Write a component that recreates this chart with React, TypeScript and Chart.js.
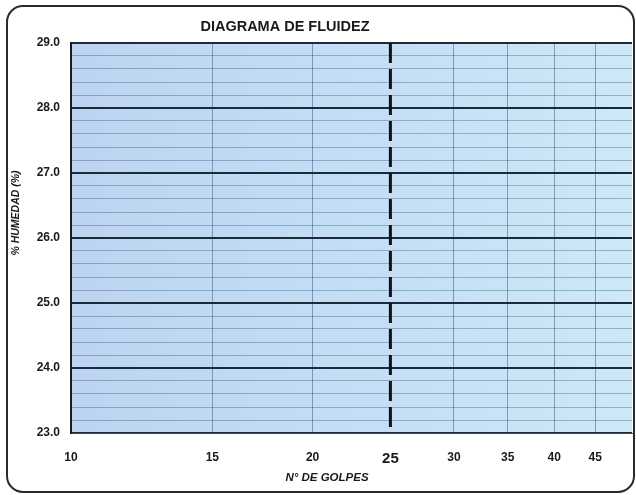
import React, { useEffect, useRef } from "react";
import { Chart, registerables } from "chart.js";
Chart.register(...registerables);

const xTickValues = [10, 15, 20, 25, 30, 35, 40, 45];
const xMin = 10;
const xMax = 50;
const yMin = 23;
const yMax = 29;
const yStep = 0.2;
const limitBlows = [25, 25];
const limitMoisture = [29, 23];
const titleText = "DIAGRAMA DE FLUIDEZ";
const xTitleText = "N° DE GOLPES";
const yTitleText = "% HUMEDAD (%)";

const FONT = "'Liberation Sans', Arial, sans-serif";

const isInt = (v: number) => Math.abs(v - Math.round(v)) < 1e-6;

export default function App() {
  const ref = useRef<HTMLCanvasElement>(null);
  useEffect(() => {
    document.body.style.margin = "0";
    const canvas = ref.current!;

    const decor = {
      id: "decor",
      beforeDraw(chart: any) {
        const { ctx, chartArea: a } = chart;
        ctx.save();
        ctx.fillStyle = "#ffffff";
        ctx.fillRect(0, 0, chart.width, chart.height);
        const g = ctx.createLinearGradient(a.left, 0, a.right, 0);
        g.addColorStop(0, "#bcd4f1");
        g.addColorStop(0.5, "#c3def5");
        g.addColorStop(1, "#cde8f6");
        ctx.fillStyle = g;
        ctx.fillRect(a.left, a.top, a.right - a.left, a.bottom - a.top);
        ctx.restore();
      },
      afterDraw(chart: any) {
        const { ctx } = chart;
        ctx.save();
        ctx.fillStyle = "#1a1a1a";
        ctx.textAlign = "center";
        ctx.textBaseline = "middle";
        ctx.font = `bold 14.5px ${FONT}`;
        ctx.fillText(titleText, 285, 27);
        ctx.font = `italic bold 11.5px ${FONT}`;
        ctx.fillText(xTitleText, 327, 478);
        ctx.translate(16, 213);
        ctx.rotate(-Math.PI / 2);
        ctx.font = `italic bold 10.5px ${FONT}`;
        ctx.fillText(yTitleText, 0, 0);
        ctx.restore();

        ctx.save();
        ctx.strokeStyle = "#2a2a2a";
        ctx.lineWidth = 2;
        ctx.beginPath();
        (ctx as any).roundRect(7, 6, 627, 486, 16);
        ctx.stroke();
        ctx.restore();
      },
    };

    const chart = new Chart(canvas, {
      type: "line",
      data: {
        datasets: [
          {
            data: limitBlows.map((x, i) => ({ x, y: limitMoisture[i] })),
            borderColor: "#111111",
            borderWidth: 3,
            borderDash: [20, 6],
            pointRadius: 0,
            fill: false,
          },
        ],
      },
      options: {
        responsive: false,
        animation: false,
        devicePixelRatio: 1,
        layout: { padding: { left: 0, right: 4, top: 43, bottom: 0 } },
        plugins: {
          legend: { display: false },
          tooltip: { enabled: false },
          title: { display: false },
        },
        scales: {
          x: {
            type: "logarithmic",
            min: xMin,
            max: xMax,
            afterBuildTicks(scale: any) {
              scale.ticks = xTickValues.map((v) => ({ value: v }));
            },
            afterFit(scale: any) {
              scale.height = 62;
            },
            ticks: {
              autoSkip: false,
              maxRotation: 0,
              padding: 17,
              color: "#1a1a1a",
              callback: (v: any) => String(v),
              font: (c: any) =>
                c.tick && c.tick.value === 25
                  ? { family: FONT, size: 15, weight: "bold" }
                  : { family: FONT, size: 12, weight: "bold" },
            },
            grid: {
              drawTicks: false,
              color: (c: any) =>
                c.tick && (c.tick.value === 25 || c.tick.value === 10)
                  ? "rgba(0,0,0,0)"
                  : "rgba(70,95,125,0.55)",
              lineWidth: 1,
            },
            border: { display: true, color: "#3a4a5a", width: 1 },
          },
          y: {
            type: "linear",
            min: yMin,
            max: yMax,
            afterBuildTicks(scale: any) {
              const t: any[] = [];
              const n = Math.round((yMax - yMin) / yStep);
              for (let i = 0; i <= n; i++) t.push({ value: +(yMin + i * yStep).toFixed(4) });
              scale.ticks = t;
            },
            afterFit(scale: any) {
              scale.width = 71;
            },
            ticks: {
              autoSkip: false,
              padding: 11,
              color: "#1a1a1a",
              font: { family: FONT, size: 12, weight: "bold" },
              callback: (v: any) => (isInt(Number(v)) ? Number(v).toFixed(1) : ""),
            },
            grid: {
              drawTicks: false,
              color: (c: any) =>
                c.tick && isInt(c.tick.value) ? "#1c2a3a" : "rgba(50,70,100,0.35)",
              lineWidth: (c: any) => (c.tick && isInt(c.tick.value) ? 2 : 1),
            },
            border: { display: true, color: "#1a1a1a", width: 2 },
          },
        },
      } as any,
      plugins: [decor],
    });
    return () => chart.destroy();
  }, []);
  return (
    <canvas
      ref={ref}
      width={636}
      height={495}
      style={{ display: "block", width: 636, height: 495 }}
    />
  );
}
